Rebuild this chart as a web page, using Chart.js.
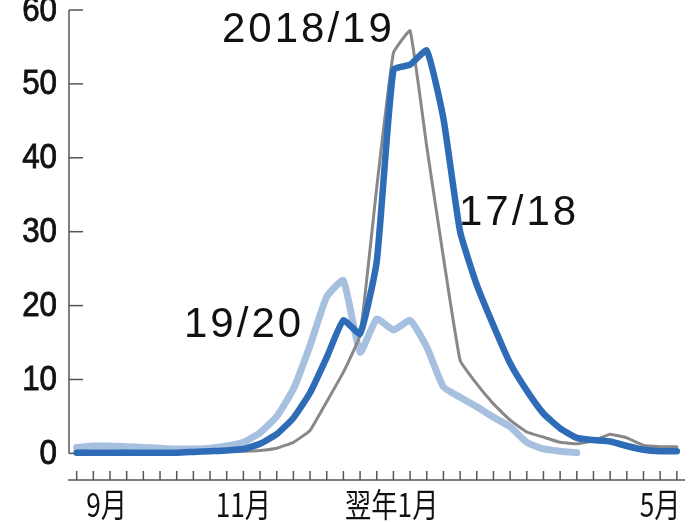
<!DOCTYPE html>
<html><head><meta charset="utf-8">
<script src="https://cdn.jsdelivr.net/npm/chart.js@4.4.1/dist/chart.umd.min.js"></script>
<style>html,body{margin:0;padding:0;background:#fff;overflow:hidden}#wrap{width:696px;height:522px}</style>
</head><body><div id="wrap"><canvas id="c" width="696" height="522"></canvas></div>
<script>
// weekly index from early September (0) to mid May (36)
const weeks = [0,1,2,3,4,5,6,7,8,9,10,11,12,13,14,15,16,17,18,19,20,21,22,23,24,25,26,27,28,29,30,31,32,33,34,35,36];
const season1718 = [0.1,0.1,0.1,0.1,0.1,0.1,0.1,0.2,0.3,0.4,0.6,1.3,2.6,4.8,8.2,13.0,18.0,16.2,26.0,51.9,52.6,54.5,45.3,30.0,22.8,17.3,12.2,8.5,5.4,3.4,2.1,1.8,1.6,1.0,0.5,0.3,0.3];
const season1819 = [0.3,0.3,0.3,0.3,0.2,0.2,0.2,0.2,0.2,0.3,0.3,0.4,0.7,1.5,3.1,7.0,11.0,16.0,36.0,54.2,57.2,41.5,26.5,12.6,9.4,6.7,4.5,2.9,2.2,1.5,1.3,1.7,2.6,2.1,1.1,0.9,0.9];
const season1920 = [0.8,1.0,1.0,0.9,0.8,0.7,0.6,0.6,0.7,1.0,1.5,2.8,5.0,8.7,14.6,21.2,23.4,13.7,18.2,16.7,18.0,14.4,9.0,7.6,6.3,4.9,3.6,1.5,0.6,0.3,0.1];
const seriesNames = ['17/18','2018/19','19/20'];
const yTicks = [0,10,20,30,40,50,60];
const xTickLabels = ['9月','11月','翌年1月','5月'];
const xTickLabelWeeks = [1.8,10,18.9,35];

const toPts = arr => arr.map((v,i)=>({x:weeks[i], y:v}));

const axesPlugin = {
  id:'axesPlugin',
  beforeDatasetsDraw(chart){
    const ctx = chart.ctx, xs = chart.scales.x, ys = chart.scales.y;
    const axX = chart.chartArea.left, axY = chart.chartArea.bottom;
    ctx.save();
    ctx.strokeStyle = '#555'; ctx.lineWidth = 1.5;
    // y axis
    ctx.beginPath();
    ctx.moveTo(axX, ys.getPixelForValue(yTicks[yTicks.length-1]));
    ctx.lineTo(axX, ys.getPixelForValue(0));
    ctx.stroke();
    yTicks.forEach(t=>{
      const py = ys.getPixelForValue(t);
      ctx.beginPath(); ctx.moveTo(axX, py); ctx.lineTo(axX+14, py); ctx.stroke();
    });
    // x axis
    ctx.beginPath(); ctx.moveTo(axX-1, axY); ctx.lineTo(chart.chartArea.right, axY); ctx.stroke();
    weeks.forEach(w=>{
      const px = xs.getPixelForValue(w);
      ctx.beginPath(); ctx.moveTo(px, axY-9); ctx.lineTo(px, axY); ctx.stroke();
    });
    // y labels
    ctx.fillStyle = '#111'; ctx.strokeStyle = '#111'; ctx.lineWidth = 0.8;
    ctx.font = '33px "Liberation Sans", Arial, sans-serif';
    ctx.textAlign = 'right'; ctx.textBaseline = 'middle';
    yTicks.forEach(t=>{
      const py = ys.getPixelForValue(t)+1;
      ctx.save();
      ctx.translate(57, py);
      ctx.scale(0.95, 1.05);
      ctx.fillText(String(t), 0, 0);
      ctx.strokeText(String(t), 0, 0);
      ctx.restore();
    });
    // x labels (condensed)
    ctx.font = '32px "Noto Sans CJK JP", sans-serif';
    ctx.textAlign = 'center'; ctx.textBaseline = 'alphabetic';
    xTickLabels.forEach((lab,i)=>{
      const px = xs.getPixelForValue(xTickLabelWeeks[i]);
      ctx.save();
      ctx.translate(px, 517);
      ctx.scale(0.82, 1.02);
      ctx.fillText(lab, 0, 0);
      ctx.restore();
    });
    ctx.restore();
  },
  afterDraw(chart){
    const ctx = chart.ctx;
    ctx.save();
    ctx.fillStyle = '#111';
    ctx.font = '42px "Liberation Sans", Arial, sans-serif';
    ctx.letterSpacing = '3px';
    ctx.textAlign = 'left'; ctx.textBaseline = 'alphabetic';
    ctx.fillText(seriesNames[1], 222, 42);
    ctx.fillText(seriesNames[0], 459, 225);
    ctx.fillText(seriesNames[2], 184, 337);
    ctx.restore();
  }
};

new Chart(document.getElementById('c'), {
  type:'line',
  data:{datasets:[
    {label:seriesNames[0], data:toPts(season1718), borderColor:'#2e6cb7', borderWidth:6.5, pointRadius:0, tension:0.15, clip:false, borderCapStyle:'round', borderJoinStyle:'round'},
    {label:seriesNames[1], data:toPts(season1819), borderColor:'#888888', borderWidth:3, pointRadius:0, tension:0.1, clip:false, borderCapStyle:'round', borderJoinStyle:'round'},
    {label:seriesNames[2], data:toPts(season1920), borderColor:'#a7c0df', borderWidth:7, pointRadius:0, tension:0.15, clip:false, borderCapStyle:'round', borderJoinStyle:'round'}
  ]},
  options:{
    responsive:false, animation:false, devicePixelRatio:1,
    layout:{padding:{left:69,right:11,top:10,bottom:42}},
    scales:{
      x:{type:'linear', min:-0.46, max:36.49, display:false},
      y:{type:'linear', min:-3.6, max:60, display:false}
    },
    plugins:{legend:{display:false}, tooltip:{enabled:false}}
  },
  plugins:[axesPlugin]
});
</script></body></html>
